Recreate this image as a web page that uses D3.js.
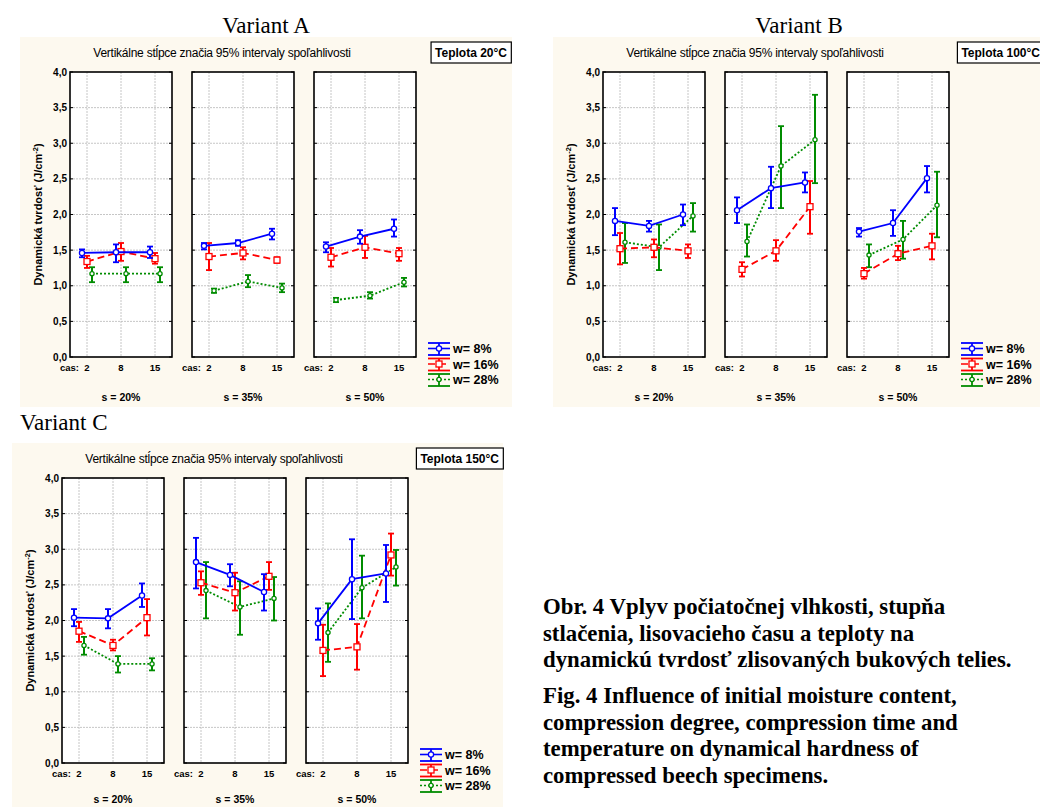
<!DOCTYPE html>
<meta charset="utf-8">
<style>
  body { margin: 0; background: #fff; }
  text { font-family: Arial, "Liberation Sans", sans-serif; }
  .serif { font-family: "Times New Roman", "Liberation Serif", serif; }
</style>
<svg width="1040" height="807"></svg>
<script src="https://d3js.org/d3.v7.min.js"></script>
<script>

// categories
var casLabels = ["2", "8", "15"];
var sLabels = ["s = 20%", "s = 35%", "s = 50%"];
var wLabels = ["w= 8%", "w= 16%", "w= 28%"];
var yTicks = [0, 0.5, 1, 1.5, 2, 2.5, 3, 3.5, 4];

// values: [w][s][cas]
var meanA = [
    [[1.46, 1.47, 1.47], [1.56, 1.60, 1.73], [1.55, 1.69, 1.80]],
    [[1.34, 1.48, 1.38], [1.41, 1.46, 1.36], [1.40, 1.54, 1.45]],
    [[1.17, 1.17, 1.17], [0.93, 1.06, 0.97], [0.80, 0.86, 1.05]]
];
var lowA = [
    [[1.40, 1.33, 1.39], [1.51, 1.56, 1.65], [1.47, 1.59, 1.69]],
    [[1.25, 1.35, 1.31], [1.22, 1.37, 1.32], [1.27, 1.39, 1.35]],
    [[1.05, 1.05, 1.05], [0.90, 0.98, 0.91], [0.77, 0.82, 0.99]]
];
var highA = [
    [[1.51, 1.58, 1.55], [1.60, 1.64, 1.80], [1.61, 1.78, 1.93]],
    [[1.42, 1.60, 1.46], [1.60, 1.54, 1.40], [1.53, 1.70, 1.53]],
    [[1.26, 1.26, 1.26], [0.96, 1.15, 1.03], [0.83, 0.91, 1.11]]
];

var meanB = [
    [[1.91, 1.84, 2.00], [2.06, 2.37, 2.45], [1.76, 1.88, 2.51]],
    [[1.52, 1.54, 1.49], [1.23, 1.49, 2.11], [1.17, 1.45, 1.56]],
    [[1.61, 1.54, 1.98], [1.62, 2.68, 3.05], [1.43, 1.65, 2.13]]
];
var lowB = [
    [[1.71, 1.76, 1.85], [1.88, 2.09, 2.31], [1.69, 1.70, 2.31]],
    [[1.30, 1.40, 1.39], [1.13, 1.35, 1.73], [1.10, 1.36, 1.37]],
    [[1.32, 1.22, 1.76], [1.41, 2.09, 2.44], [1.26, 1.38, 1.68]]
];
var highB = [
    [[2.09, 1.91, 2.14], [2.24, 2.67, 2.59], [1.81, 2.06, 2.68]],
    [[1.74, 1.65, 1.58], [1.33, 1.64, 2.47], [1.25, 1.56, 1.73]],
    [[1.88, 1.86, 2.16], [1.86, 3.24, 3.68], [1.58, 1.91, 2.60]]
];

var meanC = [
    [[2.04, 2.03, 2.35], [2.82, 2.64, 2.40], [1.96, 2.58, 2.66]],
    [[1.85, 1.65, 2.04], [2.53, 2.39, 2.62], [1.58, 1.63, 2.92]],
    [[1.65, 1.39, 1.39], [2.42, 2.19, 2.31], [1.83, 2.46, 2.75]]
];
var lowC = [
    [[1.92, 1.89, 2.19], [2.45, 2.48, 2.14], [1.73, 2.02, 2.26]],
    [[1.70, 1.58, 1.79], [2.36, 2.14, 2.43], [1.22, 1.31, 2.63]],
    [[1.52, 1.27, 1.30], [2.03, 1.80, 2.00], [1.42, 2.03, 2.49]]
];
var highC = [
    [[2.16, 2.16, 2.52], [3.16, 2.79, 2.65], [2.17, 3.14, 3.06]],
    [[1.98, 1.73, 2.30], [2.69, 2.67, 2.82], [1.94, 1.95, 3.22]],
    [[1.77, 1.50, 1.47], [2.82, 2.55, 2.61], [2.24, 2.91, 2.99]]
];

var captionSk = ["Obr. 4 Vplyv počiatočnej vlhkosti, stupňa",
    "stlačenia, lisovacieho času a teploty na",
    "dynamickú tvrdosť zlisovaných bukových telies."];
var captionEn = ["Fig. 4 Influence of initial moisture content,",
    "compression degree, compression time and",
    "temperature on dynamical hardness of",
    "compressed beech specimens."];

var colors = ["#0000ff", "#ff0000", "#008c00"];
var dashes = [null, "7,4", "2,2"];

var svg = d3.select("svg");
var bg = "#fdf9ef";

var plotW = 102, plotH = 285, plotTop = 35, plotLeft = 50, plotStep = 122;

var x = d3.scalePoint().domain(casLabels).range([0, plotW]).padding(0.5);
var dx = d3.scalePoint().domain([0, 1, 2]).range([-5, 5]);
var y = d3.scaleLinear().domain([0, 4]).range([plotH, 0]);
var fmt = function (d) { return d3.format(".1f")(d).replace(".", ","); };

function marker(sel, k, cx, cy) {
    if (k === 1) {
        sel.append("rect").attr("x", cx - 3).attr("y", cy - 3).attr("width", 6).attr("height", 6)
            .attr("fill", "#fff").attr("stroke", colors[k]).attr("stroke-width", 1.3);
    } else {
        sel.append("circle").attr("cx", cx).attr("cy", cy).attr("r", k === 0 ? 2.6 : 2.1)
            .attr("fill", "#fff").attr("stroke", colors[k]).attr("stroke-width", 1.3);
    }
}

function drawPanel(p, means, lows, highs) {
    var g = svg.append("g").attr("transform", "translate(" + p.x + "," + p.y + ")");
    g.append("rect").attr("width", p.w).attr("height", p.h).attr("fill", bg);

    g.append("text").attr("x", 202).attr("y", 20).attr("text-anchor", "middle")
        .attr("font-size", 12).attr("letter-spacing", -0.25)
        .text("Vertikálne stĺpce značia 95% intervaly spoľahlivosti");

    var tt = g.append("text").attr("x", 491 - 4).attr("y", 20).attr("text-anchor", "end")
        .attr("font-size", 12).attr("font-weight", "bold").text(p.temp);
    var bb = tt.node().getBBox();
    g.insert("rect", "text:last-child")
        .attr("x", bb.x - 4).attr("y", 5).attr("width", bb.width + 8).attr("height", 21)
        .attr("fill", "#fff").attr("stroke", "#000").attr("stroke-width", 1.2);
    tt.raise();

    g.append("text")
        .attr("transform", "translate(" + 22 + "," + (plotTop + plotH / 2) + ") rotate(-90)")
        .attr("text-anchor", "middle").attr("font-size", 11).attr("font-weight", "bold")
        .html("Dynamická tvrdosť (J/cm<tspan dy='-4' font-size='7.5'>-2</tspan><tspan dy='4'>)</tspan>");

    sLabels.forEach(function (sl, i) {
        var pg = g.append("g").attr("transform", "translate(" + (plotLeft + i * plotStep) + "," + plotTop + ")");
        pg.append("rect").attr("width", plotW).attr("height", plotH).attr("fill", "#fff");

        pg.selectAll(".gy").data(yTicks.slice(1, -1)).enter().append("line")
            .attr("x1", 0).attr("x2", plotW).attr("y1", y).attr("y2", y)
            .attr("stroke", "#b8b8b8").attr("stroke-dasharray", "2,1").attr("stroke-width", 0.8);
        pg.selectAll(".gx").data(casLabels).enter().append("line")
            .attr("x1", x).attr("x2", x).attr("y1", 0).attr("y2", plotH)
            .attr("stroke", "#b8b8b8").attr("stroke-dasharray", "2,1").attr("stroke-width", 0.8);

        pg.selectAll(".tl").data(yTicks).enter().append("line")
            .attr("x1", 0).attr("x2", 3).attr("y1", y).attr("y2", y).attr("stroke", "#000");
        pg.selectAll(".tr").data(yTicks).enter().append("line")
            .attr("x1", plotW - 3).attr("x2", plotW).attr("y1", y).attr("y2", y).attr("stroke", "#000");

        pg.append("rect").attr("width", plotW).attr("height", plotH)
            .attr("fill", "none").attr("stroke", "#000").attr("stroke-width", 1.6);

        if (i === 0) {
            pg.selectAll(".yl").data(yTicks).enter().append("text")
                .attr("x", -3).attr("y", function (d) { return y(d) + 3.5; })
                .attr("text-anchor", "end").attr("font-size", 10).attr("font-weight", "bold")
                .text(fmt);
        }

        pg.selectAll(".xl").data(casLabels).enter().append("text")
            .attr("x", x).attr("y", plotH + 14).attr("text-anchor", "middle")
            .attr("font-size", 9.5).attr("font-weight", "bold").text(function (d) { return d; });
        pg.append("text").attr("x", x(casLabels[0]) - 8).attr("y", plotH + 14).attr("text-anchor", "end")
            .attr("font-size", 9.5).attr("font-weight", "bold").text("cas:");
        pg.append("text").attr("x", plotW / 2).attr("y", plotH + p.sOff).attr("text-anchor", "middle")
            .attr("font-size", 10.5).attr("font-weight", "bold").text(sl);

        [2, 1, 0].forEach(function (k) {
            var pts = casLabels.map(function (c, j) {
                return { x: x(c) + dx(k), m: means[k][i][j], lo: lows[k][i][j], hi: highs[k][i][j] };
            });
            pg.append("path").datum(pts)
                .attr("d", d3.line().x(function (d) { return d.x; }).y(function (d) { return y(d.m); }))
                .attr("fill", "none").attr("stroke", colors[k]).attr("stroke-width", 1.8)
                .attr("stroke-dasharray", dashes[k]);
            pts.forEach(function (d) {
                pg.append("line").attr("x1", d.x).attr("x2", d.x).attr("y1", y(d.lo)).attr("y2", y(d.hi))
                    .attr("stroke", colors[k]).attr("stroke-width", 2);
                [d.lo, d.hi].forEach(function (v) {
                    pg.append("line").attr("x1", d.x - 3).attr("x2", d.x + 3).attr("y1", y(v)).attr("y2", y(v))
                        .attr("stroke", colors[k]).attr("stroke-width", 1.8);
                });
                marker(pg, k, d.x, y(d.m));
            });
        });
    });

    // legend
    var lx = 408, ly0 = plotTop + plotH - 14;
    wLabels.forEach(function (wl, k) {
        var y0 = ly0 + k * 15.5;
        var lg = g.append("g");
        [y0, y0 + 12].forEach(function (yy) {
            lg.append("line").attr("x1", lx).attr("x2", lx + 22).attr("y1", yy).attr("y2", yy)
                .attr("stroke", colors[k]).attr("stroke-width", 1.8);
        });
        lg.append("line").attr("x1", lx + 11).attr("x2", lx + 11).attr("y1", y0).attr("y2", y0 + 12)
            .attr("stroke", colors[k]).attr("stroke-width", 1.8);
        lg.append("line").attr("x1", lx).attr("x2", lx + 22).attr("y1", y0 + 5.5).attr("y2", y0 + 5.5)
            .attr("stroke", colors[k]).attr("stroke-width", 1.6).attr("stroke-dasharray", dashes[k]);
        marker(lg, k, lx + 11, y0 + 5.5);
        lg.append("text").attr("x", lx + 25).attr("y", y0 + 10).attr("font-size", 12.5)
            .attr("font-weight", "bold").text(wl);
    });
}

var panels = [
    { x: 20, y: 37, w: 492, h: 370, sOff: 44, temp: "Teplota 20°C", means: meanA, lows: lowA, highs: highA },
    { x: 553, y: 37, w: 492, h: 370, sOff: 44, temp: "Teplota 100°C", means: meanB, lows: lowB, highs: highB },
    { x: 12, y: 443, w: 491, h: 370, sOff: 40, temp: "Teplota 150°C", means: meanC, lows: lowC, highs: highC }
];
panels.forEach(function (p) { drawPanel(p, p.means, p.lows, p.highs); });

// variant titles
svg.append("text").attr("class", "serif").attr("x", 266).attr("y", 33).attr("text-anchor", "middle")
    .attr("font-size", 23).text("Variant A");
svg.append("text").attr("class", "serif").attr("x", 799).attr("y", 33).attr("text-anchor", "middle")
    .attr("font-size", 23).text("Variant B");
svg.append("text").attr("class", "serif").attr("x", 20).attr("y", 430)
    .attr("font-size", 23).text("Variant C");

// caption
svg.selectAll(".cs").data(captionSk).enter().append("text").attr("class", "serif")
    .attr("x", 543).attr("y", function (d, i) { return 614 + i * 26.5; })
    .attr("font-size", 22.8).attr("font-weight", "bold").text(function (d) { return d; });
svg.selectAll(".ce").data(captionEn).enter().append("text").attr("class", "serif")
    .attr("x", 543).attr("y", function (d, i) { return 703 + i * 26.5; })
    .attr("font-size", 22.8).attr("font-weight", "bold").text(function (d) { return d; });

</script>
